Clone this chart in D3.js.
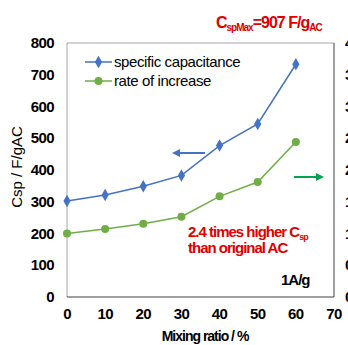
<!DOCTYPE html>
<html>
<head>
<meta charset="utf-8">
<script src="https://cdn.jsdelivr.net/npm/d3@7"></script>
<style>
  body { margin: 0; background: #fff; }
  text { font-family: "Liberation Sans", Arial, sans-serif; }
</style>
</head>
<body>
<script>
const ratios = [0, 10, 20, 30, 40, 50, 60];
const capacitance = [302, 321, 349, 383, 477, 545, 733];
const increase = [1.0, 1.07, 1.155, 1.265, 1.585, 1.81, 2.44];
const xTicks = [0, 10, 20, 30, 40, 50, 60, 70];
const yTicks = [0, 100, 200, 300, 400, 500, 600, 700, 800];
const y2Ticks = [0, 0.5, 1, 1.5, 2, 2.5, 3, 3.5, 4];
const y2Labels = ["0", "0.5", "1", "1.5", "2", "2.5", "3", "3.5", "4"];

const width = 348, height = 345;
const plotLeft = 67, plotRight = 334, plotTop = 43, plotBottom = 297;

const x = d3.scaleLinear().domain([0, 70]).range([plotLeft, plotRight]);
const y = d3.scaleLinear().domain([0, 800]).range([plotBottom, plotTop]);
const y2 = d3.scaleLinear().domain([0, 4]).range([plotBottom, plotTop]);

const svg = d3.select('body').append('svg')
    .attr('width', width).attr('height', height);

// frame
svg.append('line').attr('x1', plotLeft).attr('x2', plotLeft).attr('y1', plotTop).attr('y2', plotBottom).attr('stroke', '#a6a6a6');
svg.append('line').attr('x1', plotLeft).attr('x2', plotRight).attr('y1', plotTop).attr('y2', plotTop).attr('stroke', '#a6a6a6');
svg.append('line').attr('x1', plotRight).attr('x2', plotRight).attr('y1', plotTop).attr('y2', plotBottom).attr('stroke', '#404040');
svg.append('line').attr('x1', plotLeft).attr('x2', plotRight).attr('y1', plotBottom).attr('y2', plotBottom).attr('stroke', '#404040');

const tickFont = g => g.attr('font-size', 15).attr('font-weight', 'bold').attr('letter-spacing', -0.6).attr('fill', '#000');

// x tick labels
svg.append('g').call(tickFont).selectAll('text').data(xTicks).enter().append('text')
    .attr('x', d => x(d)).attr('y', 319).attr('text-anchor', 'middle').text(d => d);

// left tick labels
svg.append('g').call(tickFont).selectAll('text').data(yTicks).enter().append('text')
    .attr('x', 54).attr('y', d => y(d) + 5).attr('text-anchor', 'end').text(d => d);

// right tick labels (clipped by the window)
svg.append('g').call(tickFont).selectAll('text').data(y2Ticks).enter().append('text')
    .attr('x', 345).attr('y', d => y2(d) + 5).attr('text-anchor', 'start').text((d, i) => y2Labels[i]);

// axis titles
svg.append('text').attr('x', 205).attr('y', 341).attr('text-anchor', 'middle')
    .attr('font-size', 14).attr('font-weight', 'bold').attr('letter-spacing', -1).text('Mixing ratio / %');
svg.append('text').attr('transform', 'translate(22,167) rotate(-90)').attr('text-anchor', 'middle')
    .attr('font-size', 15).text('Csp / F/gAC');

// lines
const line1 = d3.line().x((d, i) => x(ratios[i])).y(d => y(d));
const line2 = d3.line().x((d, i) => x(ratios[i])).y(d => y2(d));
svg.append('path').datum(capacitance).attr('d', line1).attr('fill', 'none').attr('stroke', '#4472c4').attr('stroke-width', 1.5);
svg.append('path').datum(increase).attr('d', line2).attr('fill', 'none').attr('stroke', '#70ad47').attr('stroke-width', 1.5);

const diamond = d3.symbol().type(d3.symbolDiamond).size(45);
svg.append('g').selectAll('path').data(capacitance).enter().append('path')
    .attr('d', diamond).attr('transform', (d, i) => `translate(${x(ratios[i])},${y(d)})`).attr('fill', '#4472c4');
svg.append('g').selectAll('circle').data(increase).enter().append('circle')
    .attr('cx', (d, i) => x(ratios[i])).attr('cy', d => y2(d)).attr('r', 4).attr('fill', '#70ad47');

// legend
const legend = [
  {name: 'specific capacitance', color: '#4472c4', mark: 'diamond'},
  {name: 'rate of increase', color: '#70ad47', mark: 'circle'}
];
legend.forEach((l, i) => {
  const ly = 62 + i * 19;
  svg.append('line').attr('x1', 85).attr('x2', 112).attr('y1', ly).attr('y2', ly).attr('stroke', l.color).attr('stroke-width', 1.5);
  if (l.mark === 'diamond') {
    svg.append('path').attr('d', diamond).attr('transform', `translate(98.5,${ly})`).attr('fill', l.color);
  } else {
    svg.append('circle').attr('cx', 98.5).attr('cy', ly).attr('r', 4).attr('fill', l.color);
  }
  svg.append('text').attr('x', 114).attr('y', ly + 5).attr('font-size', 15).attr('letter-spacing', -0.4).text(l.name);
});

// arrows
svg.append('defs').selectAll('marker').data([['blue', '#4472c4'], ['green', '#00a550']]).enter()
  .append('marker').attr('id', d => 'arr-' + d[0]).attr('viewBox', '0 0 10 10').attr('refX', 5).attr('refY', 5)
  .attr('markerWidth', 4).attr('markerHeight', 4).attr('orient', 'auto')
  .append('path').attr('d', 'M0,0L10,5L0,10z').attr('fill', d => d[1]);
svg.append('line').attr('x1', 205).attr('x2', 176).attr('y1', 153).attr('y2', 153)
    .attr('stroke', '#4472c4').attr('stroke-width', 2).attr('marker-end', 'url(#arr-blue)');
svg.append('line').attr('x1', 294).attr('x2', 320).attr('y1', 177).attr('y2', 177)
    .attr('stroke', '#00a550').attr('stroke-width', 2).attr('marker-end', 'url(#arr-green)');

// red annotations
const red = '#e00000';
const t1 = svg.append('text').attr('x', 216).attr('y', 28).attr('fill', red).attr('font-weight', 'bold')
    .attr('font-size', 16).attr('letter-spacing', -1);
t1.append('tspan').text('C');
t1.append('tspan').attr('font-size', 10).attr('dy', 3).text('spMax');
t1.append('tspan').attr('dy', -3).text('=907 F/g');
t1.append('tspan').attr('font-size', 10).attr('dy', 3).text('AC');

const t2 = svg.append('text').attr('x', 188).attr('y', 237).attr('fill', red).attr('font-weight', 'bold')
    .attr('font-size', 15).attr('letter-spacing', -1);
t2.append('tspan').text('2.4 times higher C');
t2.append('tspan').attr('font-size', 9).attr('dy', 3).text('sp');
svg.append('text').attr('x', 188).attr('y', 253).attr('fill', red).attr('font-weight', 'bold')
    .attr('font-size', 15).attr('letter-spacing', -1).text('than original AC');

svg.append('text').attr('x', 281).attr('y', 285).attr('font-weight', 'bold')
    .attr('font-size', 15).attr('letter-spacing', -1).text('1A/g');
</script>
</body>
</html>
